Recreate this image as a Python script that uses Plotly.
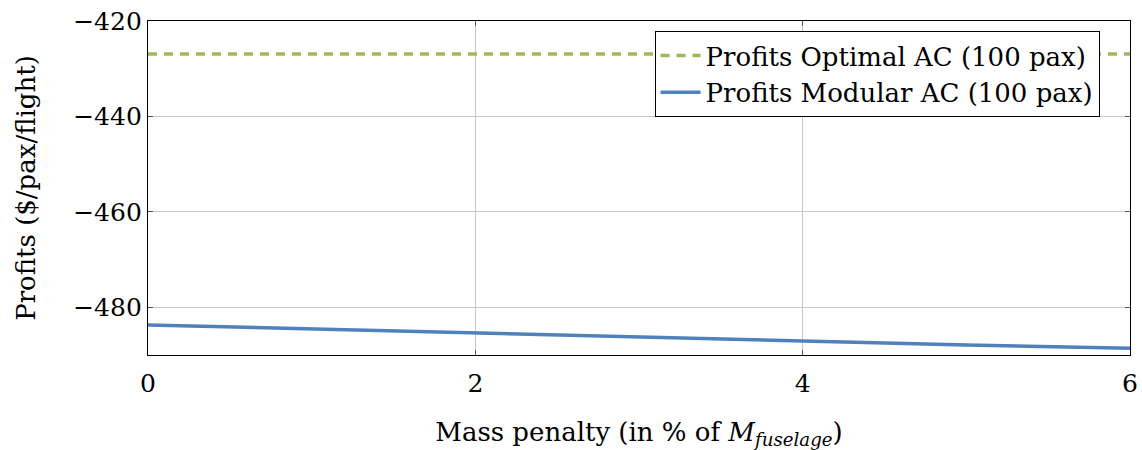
import plotly.graph_objects as go

# Data
x_vals = [0, 1, 2, 3, 4, 5, 6]
optimal_profits = [-426.9, -426.9, -426.9, -426.9, -426.9, -426.9, -426.9]
modular_profits = [-483.7, -484.55, -485.4, -486.3, -487.2, -487.9, -488.6]
x_ticks = [0, 2, 4, 6]
y_ticks = [-480, -460, -440, -420]

FONT = "DejaVu Serif"
GREEN = "#9BBB59"
BLUE = "#4F81BD"

fig = go.Figure()
fig.add_trace(go.Scatter(
    x=x_vals, y=optimal_profits, mode="lines",
    name="Profits Optimal AC (100 pax)",
    line=dict(color=GREEN, width=3.5, dash="9px,7px"),
))
fig.add_trace(go.Scatter(
    x=x_vals, y=modular_profits, mode="lines",
    name="Profits Modular AC (100 pax)",
    line=dict(color=BLUE, width=3.5),
))

axis_common = dict(
    showgrid=True, gridcolor="#c8c8c8", gridwidth=1,
    showline=True, linecolor="black", linewidth=1.3, mirror="ticks",
    ticks="inside", ticklen=5, tickcolor="#555555", tickwidth=1,
    zeroline=False, automargin=False,
    tickfont=dict(family=FONT, size=25, color="black"),
)

fig.update_layout(
    width=1142, height=450,
    margin=dict(l=148, r=12, t=21, b=95),
    plot_bgcolor="white", paper_bgcolor="white",
    font=dict(family=FONT, size=26, color="black"),
    xaxis=dict(
        range=[0, 6], tickvals=x_ticks, ticklabelstandoff=6,
        title=dict(text="Mass penalty (in % of <i>M</i><sub><i>fuselage</i></sub>)",
                   font=dict(family=FONT, size=26), standoff=28),
        **axis_common,
    ),
    yaxis=dict(
        range=[-490, -420], tickvals=y_ticks,
        title=dict(text="Profits ($/pax/flight)", font=dict(family=FONT, size=26), standoff=30),
        **axis_common,
    ),
    legend=dict(
        x=0.969, y=0.97, xanchor="right", yanchor="top",
        bordercolor="black", borderwidth=1, bgcolor="white",
        font=dict(family=FONT, size=26),
        itemwidth=40, tracegroupgap=0,
    ),
    showlegend=True,
)

fig.write_html("out.html")
